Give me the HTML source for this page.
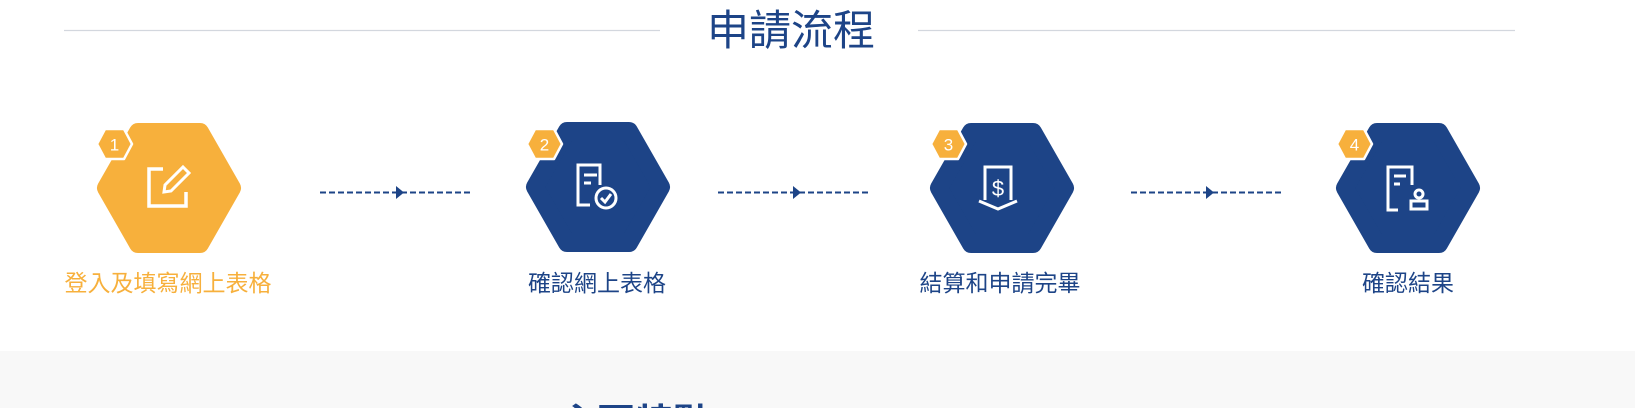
<!DOCTYPE html>
<html><head><meta charset="utf-8"><style>
html,body{margin:0;padding:0;background:#fff;width:1635px;height:408px;overflow:hidden}
svg{display:block}
text{font-family:"Liberation Sans","Noto Sans CJK TC",sans-serif}
</style></head><body>
<svg width="1635" height="408" viewBox="0 0 1635 408" xmlns="http://www.w3.org/2000/svg">
<defs>
<g id="hex"><polygon points="10,65 42,9 104,9 136,65 104,121 42,121" stroke-width="18" stroke-linejoin="round"/></g>
<g id="badge"><polygon points="2,17 10,2 29,2 37,17 29,32 10,32" fill="#f7b03c" stroke="#fff" stroke-width="2.5" stroke-linejoin="round"/></g>
<clipPath id="cl"><rect x="0" y="0" width="1635" height="408"/></clipPath>
</defs>
<rect x="0" y="351" width="1635" height="57" fill="#f8f8f8"/>
<line x1="64" y1="30.5" x2="660" y2="30.5" stroke="#d3d7de" stroke-width="1.3"/>
<line x1="918" y1="30.5" x2="1515" y2="30.5" stroke="#d3d7de" stroke-width="1.3"/>
<text x="791" y="45" font-size="42" fill="#1d4487" text-anchor="middle">申請流程</text>

<g transform="translate(96,123)" fill="#f7b03c" stroke="#f7b03c"><use href="#hex"/></g>
<g fill="none" stroke="#fff" stroke-width="3.5">
<path d="M163 169 H149 V206 H186 V192"/>
<path d="M183 167 L189 173 L171 191 L164 192 L165 185 Z" stroke-width="3"/>
</g>
<g transform="translate(525,122)" fill="#1d4487" stroke="#1d4487"><use href="#hex"/></g>
<g fill="none" stroke="#fff" stroke-width="3">
<path d="M590 205 H578 V165 H600 V185"/>
<line x1="584" y1="175" x2="597" y2="175"/><line x1="584" y1="183" x2="591" y2="183"/>
<circle cx="606" cy="198" r="10"/><path d="M601 198 L605 202 L611 194"/>
</g>
<g transform="translate(929,123)" fill="#1d4487" stroke="#1d4487"><use href="#hex"/></g>
<g fill="none" stroke="#fff" stroke-width="3">
<path d="M985 200 V167 H1011 V200"/>
<path d="M979 201 L998 209 L1017 201"/>
</g>
<text x="998" y="196" font-size="22" fill="#fff" text-anchor="middle">$</text>
<g transform="translate(1335,123)" fill="#1d4487" stroke="#1d4487"><use href="#hex"/></g>
<g fill="none" stroke="#fff" stroke-width="3">
<path d="M1398 210 H1388 V167 H1412 V185"/>
<line x1="1394" y1="176" x2="1406" y2="176"/><line x1="1394" y1="184" x2="1400" y2="184"/>
<circle cx="1419" cy="194" r="4"/><rect x="1411" y="201" width="16" height="8"/>
</g>

<g transform="translate(95,127)"><use href="#badge"/><text x="19.5" y="23.5" font-size="17" fill="#fff" text-anchor="middle">1</text></g>
<g transform="translate(525,127)"><use href="#badge"/><text x="19.5" y="23.5" font-size="17" fill="#fff" text-anchor="middle">2</text></g>
<g transform="translate(929,127)"><use href="#badge"/><text x="19.5" y="23.5" font-size="17" fill="#fff" text-anchor="middle">3</text></g>
<g transform="translate(1335,127)"><use href="#badge"/><text x="19.5" y="23.5" font-size="17" fill="#fff" text-anchor="middle">4</text></g>

<g stroke="#1d4487" stroke-width="2" stroke-dasharray="6,3">
<line x1="320" y1="192.5" x2="471" y2="192.5"/>
<line x1="718" y1="192.5" x2="869" y2="192.5"/>
<line x1="1131" y1="192.5" x2="1282" y2="192.5"/>
</g>
<g fill="#1d4487">
<polygon points="396,186 404,192.5 396,199"/>
<polygon points="793,186 801,192.5 793,199"/>
<polygon points="1206,186 1214,192.5 1206,199"/>
</g>

<g font-size="23" text-anchor="middle">
<text x="168" y="291" fill="#f7b03c">登入及填寫網上表格</text>
<text x="597" y="291" fill="#1d4487">確認網上表格</text>
<text x="1000" y="291" fill="#1d4487">結算和申請完畢</text>
<text x="1408" y="291" fill="#1d4487">確認結果</text>
</g>
<g clip-path="url(#cl)">
<text x="635" y="436" font-size="38" fill="#1d4487" text-anchor="middle" font-weight="bold">主要特點</text>
</g>
</svg>
</body></html>
